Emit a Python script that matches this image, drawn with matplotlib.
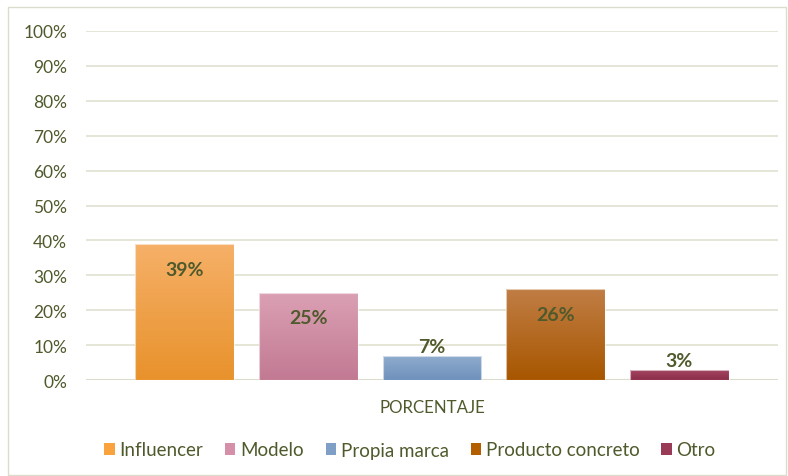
import numpy as np
import matplotlib.pyplot as plt
from matplotlib.colors import LinearSegmentedColormap
from matplotlib.patches import Rectangle, Patch

# ----- Datos ----- #
categorias = ["Influencer", "Modelo", "Propia marca", "Producto concreto", "Otro"]
valores = [0.39, 0.25, 0.07, 0.26, 0.03]
etiquetas = ["39%", "25%", "7%", "26%", "3%"]
eje_x = "PORCENTAJE"

# colores (arriba, abajo) para el degradado de cada barra
colores = [("#f6b068", "#e8922c"), ("#dba0b4", "#c27a93"), ("#90acce", "#6f91bc"),
           ("#c07d44", "#a85700"), ("#a64862", "#8b2e4a")]
colores_leyenda = ["#f9a23e", "#d68fa8", "#7f9fc6", "#b35f00", "#993a57"]

TEXTO = "#4f5a2c"
REJILLA = "#e4e4d4"

plt.rcParams['font.family'] = ['Lato', 'DejaVu Sans']

fig = plt.figure(figsize=(7.88, 4.77), dpi=100)
ax = fig.add_axes([86 / 788, 1 - 381 / 477, (778 - 86) / 788, (381 - 32) / 477])

# marco exterior
fig.patches.append(Rectangle((8 / 788, 0.002), 1 - 8 / 788 - 0.002, 1 - 8 / 477 - 0.002,
                             transform=fig.transFigure, fill=False,
                             edgecolor="#dcdccc", linewidth=1))

x = np.arange(len(valores))
ancho = 0.8
barras = ax.bar(x, valores, ancho, color="none", edgecolor="none", zorder=3)

# degradado vertical dentro de cada barra
for b, (arriba, abajo) in zip(barras, colores):
    cmap = LinearSegmentedColormap.from_list("g", [abajo, arriba])
    grad = np.linspace(0, 1, 100).reshape(-1, 1)
    x0, y0 = b.get_x(), b.get_y()
    im = ax.imshow(grad, cmap=cmap, aspect="auto", origin="lower",
                   extent=[x0, x0 + b.get_width(), y0, y0 + b.get_height()], zorder=3)
    im.set_clip_path(b)
    ax.add_patch(Rectangle((x0, y0), b.get_width(), b.get_height(), fill=False,
                           edgecolor="#ffffff", linewidth=0.8, alpha=0.6, zorder=4))

# etiquetas de datos
for xi, v, t in zip(x, valores, etiquetas):
    if v >= 0.1:
        ax.text(xi, v - 0.072, t, ha="center", va="center", fontsize=14,
                fontweight="bold", color=TEXTO, zorder=5)
    else:
        ax.text(xi, v + 0.027, t, ha="center", va="center", fontsize=14,
                fontweight="bold", color=TEXTO, zorder=5)

ax.set_xlim(-0.8, 4.8)
ax.set_ylim(0, 1.0)
ax.set_yticks(np.arange(0, 1.01, 0.1))
ax.set_yticklabels([f"{int(round(t * 100))}%" for t in np.arange(0, 1.01, 0.1)],
                   fontsize=12.5, color=TEXTO)
ax.yaxis.grid(True, color=REJILLA, linewidth=1.3, zorder=0)
ax.set_axisbelow(True)
ax.tick_params(axis="y", length=0, pad=13.5)
ax.set_xticks([])
for s in ax.spines.values():
    s.set_visible(False)
ax.axhline(0, color="#dcdccc", linewidth=1.5, zorder=2)

fig.text(432 / 788, 1 - 408 / 477, eje_x, ha="center", va="center",
         fontsize=12.2, color=TEXTO)

handles = [Patch(facecolor=c, edgecolor="none") for c in colores_leyenda]
fig.legend(handles, categorias, loc="center", bbox_to_anchor=(410 / 788, 1 - 451 / 477),
           ncol=5, frameon=False, fontsize=13.5, handlelength=0.55, handleheight=0.55,
           handletextpad=0.25, columnspacing=1.17, labelcolor=TEXTO)

fig.savefig("out.png", dpi=100)
